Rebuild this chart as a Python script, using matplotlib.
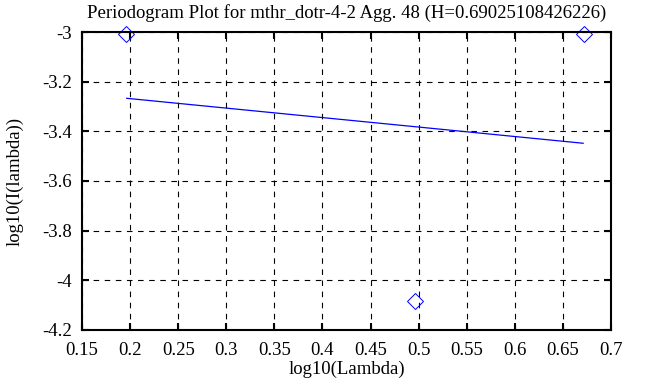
import matplotlib
matplotlib.use("Agg")
import matplotlib.pyplot as plt

# points (log10 lambda, log10 I(lambda))
log_lambda = [0.196, 0.4966, 0.672]
log_power = [-3.008, -4.083, -3.008]

# least-squares fit line endpoints
fit_x = [0.1965, 0.671]
fit_y = [-3.267, -3.448]

x_ticks = [0.15, 0.2, 0.25, 0.3, 0.35, 0.4, 0.45, 0.5, 0.55, 0.6, 0.65, 0.7]
x_labels = ["0.15", "0.2", "0.25", "0.3", "0.35", "0.4", "0.45", "0.5", "0.55", "0.6", "0.65", "0.7"]
y_ticks = [-4.2, -4.0, -3.8, -3.6, -3.4, -3.2, -3.0]
y_labels = ["-4.2", "-4", "-3.8", "-3.6", "-3.4", "-3.2", "-3"]

TITLE = "Periodogram Plot for mthr_dotr-4-2 Agg. 48 (H=0.69025108426226)"

plt.rcParams["font.family"] = ["Liberation Serif", "DejaVu Serif"]

fig = plt.figure(figsize=(6.68, 3.87), dpi=100)
ax = fig.add_axes([0.1228, 0.1473, 0.7919, 0.77])

ax.plot(fit_x, fit_y, color="blue", linewidth=0.9)
ax.plot(log_lambda, log_power, linestyle="none", marker="D", markersize=8,
        markerfacecolor="none", markeredgecolor="blue", markeredgewidth=0.7,
        clip_on=False)

ax.set_xlim(0.15, 0.7)
ax.set_ylim(-4.2, -3.0)
ax.set_xticks(x_ticks)
ax.set_xticklabels(x_labels)
ax.set_yticks(y_ticks)
ax.set_yticklabels(y_labels)

ax.grid(True, color="black", linestyle=(0, (5, 5)), linewidth=0.8)
for spine in ax.spines.values():
    spine.set_linewidth(1.5)
ax.tick_params(direction="in", length=5, width=1.5, top=True, right=True,
               labelsize=13.5)
ax.tick_params(axis="x", pad=9)
ax.tick_params(axis="y", pad=7)

ax.set_title(TITLE, fontsize=13.5, pad=10)
ax.set_xlabel("log10(Lambda)", fontsize=13.5, labelpad=1)
ax.set_ylabel("log10(I(lambda))", fontsize=13.5, labelpad=14)

fig.savefig("out.png", dpi=100)
